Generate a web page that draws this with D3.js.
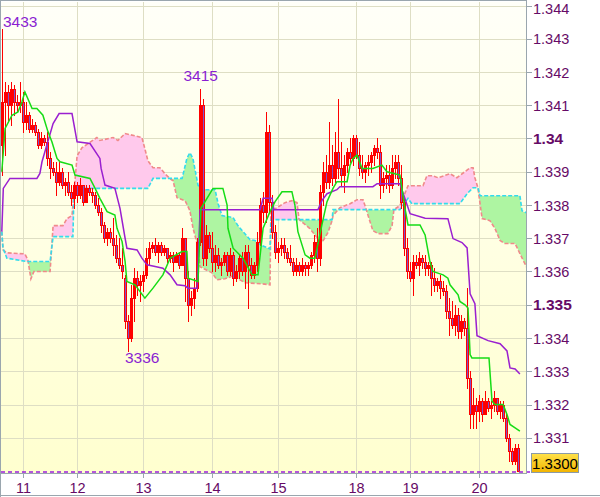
<!DOCTYPE html>
<html><head><meta charset="utf-8">
<script src="https://cdn.jsdelivr.net/npm/d3@7/dist/d3.min.js"></script>
<style>
html,body{margin:0;padding:0;background:#fff;}
svg{display:block;font-family:"Liberation Sans",Arial,sans-serif;}
</style></head><body>
<svg id="chart" width="600" height="497"></svg>
<script>
// ---- DATA (prices in pips: 3433 = 1.3433) ----
const candles = [ // [open, high, low, close]
[3398,3433,3389,3411],[3411,3417,3395,3414],[3414,3416,3405,3410],[3410,3417,3404,3415],[3415,3416,3407,3411],
[3411,3413,3408,3410],[3410,3417,3408,3411],[3411,3414,3402,3405],[3405,3411,3403,3407],[3407,3408,3402,3403],
[3403,3406,3402,3404],[3404,3405,3401,3402],[3402,3403,3397,3398],[3398,3402,3397,3400],[3400,3401,3398,3399],
[3399,3402,3392,3394],[3394,3396,3388,3391],[3391,3393,3389,3390],[3390,3393,3383,3387],[3387,3393,3386,3390],
[3390,3391,3385,3386],[3386,3388,3383,3387],[3387,3390,3383,3384],[3384,3386,3380,3382],[3382,3387,3379,3386],
[3386,3387,3381,3383],[3383,3388,3382,3386],[3386,3386,3380,3381],[3381,3386,3381,3385],[3385,3386,3383,3384],
[3384,3385,3381,3383],[3383,3384,3379,3380],[3380,3382,3377,3378],[3378,3379,3372,3374],[3374,3375,3369,3370],
[3370,3373,3368,3372],[3372,3373,3369,3370],[3370,3376,3365,3368],[3368,3371,3363,3364],[3364,3370,3361,3362],
[3362,3367,3358,3360],[3358,3359,3343,3345],[3345,3347,3336,3340],[3340,3356,3339,3352],[3352,3361,3345,3358],
[3358,3360,3353,3356],[3356,3359,3351,3357],[3357,3360,3354,3359],[3359,3367,3358,3364],[3364,3369,3362,3367],
[3367,3369,3366,3368],[3368,3370,3365,3366],[3366,3369,3363,3368],[3368,3369,3365,3366],[3366,3368,3365,3367],
[3367,3367,3363,3364],[3364,3366,3363,3365],[3365,3366,3360,3363],[3363,3366,3363,3365],[3365,3366,3361,3362],
[3362,3373,3362,3370],[3370,3370,3351,3358],[3358,3360,3345,3350],[3350,3354,3347,3352],[3352,3358,3349,3355],
[3355,3370,3354,3369],[3369,3415,3368,3410],[3410,3412,3362,3364],[3364,3374,3362,3371],[3371,3372,3366,3367],
[3367,3372,3360,3363],[3363,3368,3360,3365],[3365,3367,3361,3362],[3362,3364,3359,3363],[3363,3366,3362,3365],
[3365,3366,3359,3360],[3360,3367,3359,3365],[3365,3366,3356,3358],[3358,3362,3357,3360],[3360,3365,3358,3364],
[3364,3366,3359,3360],[3360,3368,3355,3366],[3366,3368,3349,3362],[3362,3364,3358,3359],[3359,3363,3358,3362],
[3362,3372,3360,3369],[3369,3382,3368,3380],[3380,3384,3375,3378],[3378,3408,3375,3402],[3402,3404,3378,3381],
[3381,3383,3370,3372],[3372,3374,3364,3366],[3366,3369,3363,3367],[3367,3370,3365,3368],[3368,3370,3364,3366],
[3366,3367,3363,3364],[3364,3368,3362,3363],[3363,3364,3359,3360],[3360,3364,3359,3362],[3362,3363,3359,3360],
[3360,3364,3359,3362],[3362,3363,3359,3361],[3361,3363,3359,3362],[3362,3366,3361,3365],[3365,3371,3363,3369],
[3369,3373,3360,3364],[3364,3386,3362,3384],[3384,3393,3380,3390],[3390,3395,3385,3387],[3387,3405,3385,3392],
[3392,3398,3386,3388],[3388,3402,3387,3396],[3396,3412,3388,3391],[3391,3399,3386,3389],[3389,3395,3384,3392],
[3392,3397,3390,3396],[3396,3400,3393,3394],[3394,3401,3392,3400],[3400,3401,3394,3395],[3395,3399,3389,3391],
[3391,3395,3388,3390],[3390,3393,3387,3392],[3392,3395,3389,3393],[3393,3396,3390,3395],[3395,3398,3392,3397],
[3397,3400,3394,3396],[3396,3398,3382,3386],[3386,3390,3384,3388],[3388,3392,3385,3389],[3389,3392,3384,3386],
[3386,3395,3385,3391],[3391,3395,3388,3393],[3393,3395,3386,3388],[3388,3392,3379,3381],[3381,3382,3365,3367],
[3367,3370,3358,3360],[3360,3363,3357,3358],[3358,3365,3353,3363],[3363,3365,3361,3362],[3362,3366,3359,3364],
[3364,3365,3361,3363],[3363,3365,3359,3361],[3361,3363,3359,3362],[3362,3363,3353,3358],[3358,3361,3354,3356],
[3356,3358,3354,3357],[3357,3359,3352,3355],[3355,3357,3353,3354],[3354,3356,3346,3348],[3348,3352,3341,3346],
[3346,3351,3343,3344],[3344,3350,3341,3347],[3347,3349,3340,3342],[3342,3347,3340,3345],[3345,3346,3341,3343],
[3343,3355,3325,3328],[3328,3330,3313,3317],[3317,3325,3313,3320],[3320,3322,3313,3318],[3318,3323,3315,3321],
[3321,3322,3315,3317],[3317,3324,3317,3321],[3321,3322,3318,3319],[3319,3321,3316,3320],[3320,3324,3318,3322],
[3322,3322,3317,3318],[3318,3321,3316,3320],[3320,3321,3315,3316],[3316,3317,3309,3310],[3310,3311,3303,3306],
[3306,3307,3302,3303],[3303,3308,3302,3307],[3307,3308,3300,3300]
];
// Ichimoku lines: [bar index, pips]
const tenkan = [[-0.4,3390],[0.7,3403],[3,3407],[5,3408],[6.3,3411],[7.3,3414],[9.7,3409],[11.3,3409],[13.3,3407],[15,3402],[16.3,3399],[18,3394],[19,3393],[23,3392],[24,3389],[29,3388],[30.7,3385],[32.3,3382],[34.7,3378],[37.3,3377],[38,3373],[39.7,3369],[40.7,3363],[41.3,3357],[44,3356],[47.3,3352],[50,3355],[53.3,3359],[55.7,3364],[59.7,3366],[61.3,3366],[61.7,3358],[65,3357],[66,3379],[70,3385],[73.3,3385],[74.7,3380],[75,3373],[76.7,3367],[80,3364],[83,3359],[85,3359],[86.7,3373],[89,3378],[90.7,3381],[93,3384],[96.3,3384],[97.3,3380],[98.3,3372],[100.7,3365],[102.3,3364],[104,3364],[106.3,3374],[108,3381],[110,3385],[111.3,3387],[114.7,3387],[115.7,3392],[116.7,3394],[118,3395],[119.7,3391],[123.3,3391],[126.3,3392],[128,3390],[132.3,3389],[134,3379],[135,3374],[139,3374],[140.7,3371],[142.3,3363],[143.3,3360],[146.7,3359],[148.3,3358],[149,3356],[151.7,3353],[152.3,3351],[154,3350],[155,3349],[155.7,3335],[156.3,3334],[162,3334],[163,3321],[164,3320],[166.7,3320],[168,3317],[169,3314],[170.7,3313],[172.3,3312]];
const kijun = [[-0.4,3372],[0.1,3385],[2.3,3388],[11.3,3388],[12.3,3389.5],[13,3393],[16.7,3404.5],[18.7,3407.5],[23,3407.5],[24.7,3399],[29,3398.5],[32.3,3394],[32.7,3391],[34,3386],[37.3,3385],[39,3379],[40.7,3370],[41.3,3367],[44.7,3366.5],[46.3,3364],[48,3362],[50.7,3361.5],[53.3,3361],[55.7,3359],[58,3356],[60.7,3355.7],[61.7,3355],[64.7,3355],[65.7,3378.6],[85.7,3378.6],[86.7,3382],[89.7,3382],[90.3,3378.6],[105,3378.6],[106.3,3381.3],[108,3383.4],[111.3,3384.6],[112.3,3385.5],[123.3,3385.5],[124.7,3386.4],[132.3,3386.4],[135.7,3377.4],[140.7,3376],[148.3,3375.9],[150,3369.9],[153,3368.7],[154.7,3367.1],[155.7,3353.3],[157.3,3350.3],[158,3340.7],[161.7,3339.2],[165.7,3338.3],[168,3336.1],[169,3331],[170.7,3330.7],[172.3,3329.2]];
const senkouA = [[-0.4,3372],[0,3367],[1.3,3364],[8,3363],[15.7,3363],[16.7,3370.5],[23.3,3370.5],[23.7,3385],[48.3,3385],[50,3388],[59.7,3388],[61.3,3394],[62.3,3395.7],[63.3,3394],[65,3386],[66.3,3384.6],[70.7,3384.6],[71.7,3380.4],[73,3376.8],[76.7,3376.2],[78.3,3373.8],[82.3,3369.6],[84,3369.3],[86.3,3367.8],[89,3366.8],[89.3,3375.6],[109.7,3375.6],[110,3378.6],[132.3,3378.6],[135,3382],[136.3,3380.4],[152.3,3380.4],[154.7,3383.4],[156.7,3385.2],[158.3,3385.2],[159,3382.8],[172.3,3382.8],[173,3378.3],[175,3377.4]];
const senkouB = [[-0.4,3372],[0,3366.5],[1.3,3365.6],[7.3,3365.3],[8.3,3363.5],[9.3,3357.8],[10.3,3360],[15.7,3360],[16.7,3373.8],[20,3373.8],[21.3,3375.9],[23,3376.8],[24.7,3394.8],[26.3,3397.2],[31.3,3400.3],[32.3,3399.4],[36.7,3400.3],[38.3,3399.4],[40.7,3401.5],[46.3,3400.3],[47.3,3396.9],[48.3,3393.3],[50,3391.2],[52.3,3391.2],[54,3389.4],[55.7,3387.9],[56.7,3387.3],[58,3382.2],[60.7,3381.3],[62.3,3378.3],[63.3,3373.2],[64.7,3368.4],[65.7,3361.4],[69.7,3359.6],[71.3,3357.5],[74,3357.8],[76.7,3358.7],[80.7,3356.6],[86.3,3356.3],[89,3356],[89.3,3378.3],[89.7,3378.3],[94,3380.7],[96.3,3381.3],[98,3380.7],[98.7,3375.6],[102.3,3372.9],[104.7,3370.2],[106.3,3368.7],[108.3,3371.7],[109.7,3375.3],[110,3376.8],[112.3,3379.2],[115.7,3380.4],[118,3381.6],[120,3381.6],[121,3378.9],[121.7,3376.8],[123.3,3372.3],[125,3371.4],[128.3,3371.4],[129.7,3373.8],[130.3,3378.6],[132.3,3379.8],[135,3385.8],[140,3385.8],[141.3,3388.8],[143.3,3388.8],[145,3388.2],[149,3389.4],[151.3,3388.2],[155.7,3391.2],[156.7,3391.2],[157.3,3388.2],[158.3,3385.2],[159.7,3375.9],[162.3,3375.3],[164,3372.9],[165.7,3369.3],[167.3,3368.4],[170.7,3368.4],[173,3364.1],[175,3360.5]];
const dayLabels = ["11","12","13","14","15","18","19","20"];
const dayIndex  = [7,25,47,70,92,118,136,159];
const priceTicks = [3310,3320,3330,3340,3350,3360,3370,3380,3390,3400,3410,3420,3430,3440];
const priceLabels = ["1.331","1.332","1.333","1.334","1.335","1.336","1.337","1.338","1.339","1.34","1.341","1.342","1.343","1.344"];
const boldLabels = ["1.34","1.335"];
const markers = [{text:"3433", i:0, kind:"high"},{text:"3415", i:66, kind:"high"},{text:"3336", i:42, kind:"low"}];
const lastPrice = 3300, lastLabel = "1.3300";

// ---- DRAWING ----
const svg = d3.select("#chart");
const P = {l:1, t:2, r:527, b:473};
const x = d3.scaleLinear().domain([0,174]).range([3,525]);
const y = d3.scaleLinear().domain([3300,3440]).range([471,5.5]);
const defs = svg.append("defs");
const bg = defs.append("linearGradient").attr("id","bg").attr("x1",0).attr("y1",0).attr("x2",0).attr("y2",1);
bg.append("stop").attr("offset","0%").attr("stop-color","#fffff8");
bg.append("stop").attr("offset","100%").attr("stop-color","#ffffcf");
const gold = defs.append("linearGradient").attr("id","gold").attr("x1",0).attr("y1",0).attr("x2",0).attr("y2",1);
gold.append("stop").attr("offset","0%").attr("stop-color","#ffe24a");
gold.append("stop").attr("offset","100%").attr("stop-color","#f2b400");
defs.append("clipPath").attr("id","plotClip").append("rect")
  .attr("x",P.l).attr("y",P.t).attr("width",P.r-P.l).attr("height",P.b-P.t);

svg.append("rect").attr("x",P.l).attr("y",P.t).attr("width",P.r-P.l).attr("height",P.b-P.t).attr("fill","url(#bg)");

const plot = svg.append("g").attr("clip-path","url(#plotClip)");
// grid
plot.selectAll(".hg").data(priceTicks).enter().append("line")
  .attr("x1",P.l).attr("x2",P.r).attr("y1",d=>Math.round(y(d))+0.5).attr("y2",d=>Math.round(y(d))+0.5)
  .attr("stroke","#dedec4").attr("stroke-width",1);
plot.selectAll(".vg").data(dayIndex).enter().append("line")
  .attr("y1",P.t).attr("y2",P.b).attr("x1",d=>Math.round(x(d))-0.5).attr("x2",d=>Math.round(x(d))-0.5)
  .attr("stroke","#dedec4").attr("stroke-width",1);

// cloud
const lg = d3.line().x(d=>x(d[0])).y(d=>y(d[1]));
const polyA = lg(senkouA);
const polyB = lg(senkouB.slice().reverse()).replace(/^M/,"L");
const cloudPath = polyA + polyB + "Z";
const a0 = senkouA[0], aN = senkouA[senkouA.length-1];
const aboveA = `M${x(a0[0])-30},${y(a0[1])}L` + polyA.slice(1) + `L${x(aN[0])+30},${y(aN[1])}L${x(aN[0])+30},-200L${x(a0[0])-30},-200Z`;
const belowA = `M${x(a0[0])-30},${y(a0[1])}L` + polyA.slice(1) + `L${x(aN[0])+30},${y(aN[1])}L${x(aN[0])+30},900L${x(a0[0])-30},900Z`;
defs.append("clipPath").attr("id","cAbove").append("path").attr("d",aboveA);
defs.append("clipPath").attr("id","cBelow").append("path").attr("d",belowA);
plot.append("g").attr("clip-path","url(#cAbove)").append("path").attr("d",cloudPath).attr("fill","#ffc9ec");
plot.append("g").attr("clip-path","url(#cBelow)").append("path").attr("d",cloudPath).attr("fill","#aef5a2");
plot.append("path").attr("d",lg(senkouB)).attr("fill","none").attr("stroke","#f08a8a").attr("stroke-width",1.6).attr("stroke-dasharray","4,2");
plot.append("path").attr("d",lg(senkouA)).attr("fill","none").attr("stroke","#33dcec").attr("stroke-width",1.6).attr("stroke-dasharray","4,2");

// candles
const cg = plot.append("g").attr("shape-rendering","crispEdges");
candles.forEach((c,i)=>{
  const [o,h,l,cl] = c;
  const cx = Math.round(x(i));
  cg.append("line").attr("x1",cx-0.5).attr("x2",cx-0.5).attr("y1",Math.round(y(h))).attr("y2",Math.round(y(l))+1)
    .attr("stroke","#ff0000").attr("stroke-width",1);
  const top = Math.round(y(Math.max(o,cl))), bot = Math.round(y(Math.min(o,cl)));
  cg.append("rect").attr("x",cx-1.5).attr("y",top+0.5).attr("width",2).attr("height",Math.max(bot-top,0))
    .attr("fill", cl<o ? "#8052c8" : "none").attr("stroke","#ff0000").attr("stroke-width",1);
});

// tenkan / kijun
plot.append("path").attr("d",lg(kijun)).attr("fill","none").attr("stroke","#9a1fd0").attr("stroke-width",1.5);
plot.append("path").attr("d",lg(tenkan)).attr("fill","none").attr("stroke","#16dc16").attr("stroke-width",1.5);

// last price dashed line (runs up to the price box)
svg.append("line").attr("x1",P.l).attr("x2",532).attr("y1",y(lastPrice)+1).attr("y2",y(lastPrice)+1)
  .attr("stroke","#9a1fe0").attr("stroke-width",1.5).attr("stroke-dasharray","4,3");

// high/low markers
markers.forEach(m=>{
  const c = candles[m.i];
  const cx = Math.round(x(m.i));
  const t = svg.append("text").text(m.text).attr("fill","#8a1ed2").attr("font-size","15.5px");
  if(m.kind==="high"){
    const w = 35;
    let lx = Math.max(cx - w/2, P.l+2);
    t.attr("x",lx).attr("y",Math.max(y(c[1])-8, 27));
  } else {
    t.attr("x",cx-4).attr("y",y(c[2])+12);
  }
});

// frame
const frame = svg.append("g").attr("shape-rendering","crispEdges");
frame.append("line").attr("x1",0).attr("x2",P.r).attr("y1",0.5).attr("y2",0.5).attr("stroke","#9aa6ae").attr("stroke-width",1);
frame.append("line").attr("x1",0.5).attr("x2",0.5).attr("y1",0).attr("y2",497).attr("stroke","#9aa6ae");
frame.append("line").attr("x1",P.r-0.5).attr("x2",P.r-0.5).attr("y1",0).attr("y2",P.b).attr("stroke","#9aa6ae");
frame.append("line").attr("x1",0).attr("x2",P.r).attr("y1",P.b+0.5).attr("y2",P.b+0.5).attr("stroke","#9aa6ae");
frame.append("line").attr("x1",0).attr("x2",600).attr("y1",495.5).attr("y2",495.5).attr("stroke","#9aa6ae");

// right axis
priceTicks.forEach((v,k)=>{
  const yy = Math.round(y(v))+0.5;
  frame.append("line").attr("x1",P.r).attr("x2",P.r+5).attr("y1",yy).attr("y2",yy).attr("stroke","#9aa6ae");
  const lab = priceLabels[k];
  const b = boldLabels.includes(lab);
  svg.append("text").text(lab).attr("x",533).attr("y",Math.max(y(v)+5.5, 13.5))
    .attr("font-size", b ? "15.5px" : "14.5px").attr("font-weight", b ? "bold":"normal").attr("fill","#660a66");
});
// bottom axis
dayIndex.forEach((d,k)=>{
  const xx = Math.round(x(d))-0.5;
  frame.append("line").attr("x1",xx).attr("x2",xx).attr("y1",P.b).attr("y2",P.b+5).attr("stroke","#9aa6ae");
  svg.append("text").text(dayLabels[k]).attr("x",xx).attr("y",493).attr("text-anchor","middle")
    .attr("font-size","14.5px").attr("fill","#660a66");
});
// last price box
const ly = y(lastPrice)+1;
svg.append("rect").attr("x",531.5).attr("y",ly-18.5).attr("width",47).attr("height",19)
  .attr("fill","url(#gold)").attr("stroke","#8a9aa8").attr("stroke-width",1);
svg.append("text").text(lastLabel).attr("x",555).attr("y",ly-3.5).attr("text-anchor","middle")
  .attr("font-size","15px").attr("fill","#000");
</script>
</body></html>
